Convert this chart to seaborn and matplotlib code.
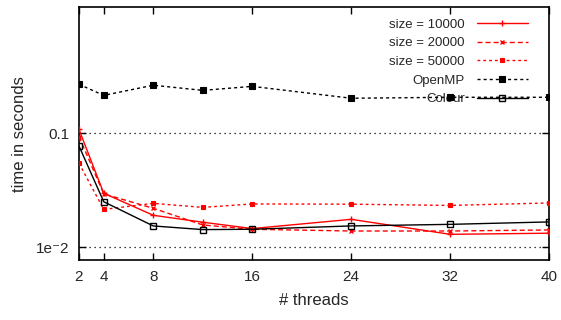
import numpy as np
import pandas as pd
import matplotlib
matplotlib.use("Agg")
import matplotlib.pyplot as plt
import seaborn as sns

# thread counts and timings (seconds)
threads = [2, 4, 8, 12, 16, 24, 32, 40]
size_10000 = [0.108, 0.0298, 0.0191, 0.0166, 0.0146, 0.0176, 0.0130, 0.0133]
size_20000 = [0.0935, 0.0294, 0.0220, 0.0157, 0.0144, 0.0139, 0.0139, 0.0142]
size_50000 = [0.0546, 0.0215, 0.0243, 0.0224, 0.0240, 0.0239, 0.0233, 0.0245]
openmp = [0.269, 0.215, 0.264, 0.238, 0.258, 0.203, 0.207, 0.207]
colour = [0.0774, 0.0251, 0.0154, 0.0143, 0.0144, 0.0154, 0.0159, 0.0167]

series_names = ["size = 10000", "size = 20000", "size = 50000", "OpenMP", "Colour"]
series_values = [size_10000, size_20000, size_50000, openmp, colour]

xticks = [2, 4, 8, 16, 24, 32, 40]
yticks = [0.1, 0.01]
ytick_labels = ["0.1", "1e\u207b2"]

df = pd.DataFrame({
    "threads": threads * len(series_names),
    "time": [v for vals in series_values for v in vals],
    "series": [n for n in series_names for _ in threads],
})

sns.set_style("ticks")
plt.rcParams["font.family"] = ["Liberation Sans", "DejaVu Sans"]

styles = {
    "size = 10000": dict(color="#ff0000", dashes=(None, None), marker="+", ms=5, mfc="#ff0000", mew=1.0),
    "size = 20000": dict(color="#ff0000", dashes=(3.6, 2.2), marker="x", ms=3.5, mfc="#ff0000", mew=1.0),
    "size = 50000": dict(color="#ff0000", dashes=(2.0, 2.2), marker="s", ms=3.5, mfc="#ff0000", mew=0.8),
    "OpenMP": dict(color="#000000", dashes=(2.2, 2.2), marker="s", ms=4.5, mfc="#000000", mew=0.8),
    "Colour": dict(color="#000000", dashes=(None, None), marker="s", ms=4.5, mfc="none", mew=1.0),
}

fig = plt.figure(figsize=(5.61, 3.2), dpi=100)
ax = fig.add_axes([0.1408, 0.1875, 0.8382, 0.7897])

for name in series_names:
    st = styles[name]
    sub = df[df["series"] == name]
    sns.lineplot(data=sub, x="threads", y="time", ax=ax, color=st["color"],
                 lw=1.0, marker=st["marker"], markersize=st["ms"],
                 markerfacecolor=st["mfc"], markeredgecolor=st["color"],
                 markeredgewidth=st["mew"], label=name, zorder=3)
    line = ax.get_lines()[-1]
    if st["dashes"][0] is not None:
        line.set_dashes(st["dashes"])

ax.set_yscale("log")
ax.set_xlim(2, 40)
ax.set_ylim(0.00774, 1.274)
ax.set_xticks(xticks)
ax.set_xticklabels([str(t) for t in xticks], fontsize=11)
ax.set_yticks(yticks)
ax.set_yticklabels(ytick_labels, fontsize=11)
ax.yaxis.set_minor_locator(matplotlib.ticker.NullLocator())
ax.xaxis.set_minor_locator(matplotlib.ticker.NullLocator())
ax.tick_params(axis="both", direction="in", length=5, width=1.0, color="black",
               top=True, right=True, pad=7)
ax.set_xlabel("# threads", fontsize=12, labelpad=7)
ax.set_ylabel("time in seconds", fontsize=12, labelpad=6)

for y in yticks:
    ax.axhline(y, color="black", lw=0.9, ls=(0, (1, 3)), zorder=1)

for sp in ax.spines.values():
    sp.set_color("black")
    sp.set_linewidth(1.2)

leg = ax.legend(loc="upper right", bbox_to_anchor=(0.955, 0.955), frameon=False,
                markerfirst=False, fontsize=9.5, handlelength=3.9, handletextpad=0.9,
                labelspacing=0.48, borderpad=0, borderaxespad=0)
leg.set_zorder(1)

fig.savefig("out.png", dpi=100)
